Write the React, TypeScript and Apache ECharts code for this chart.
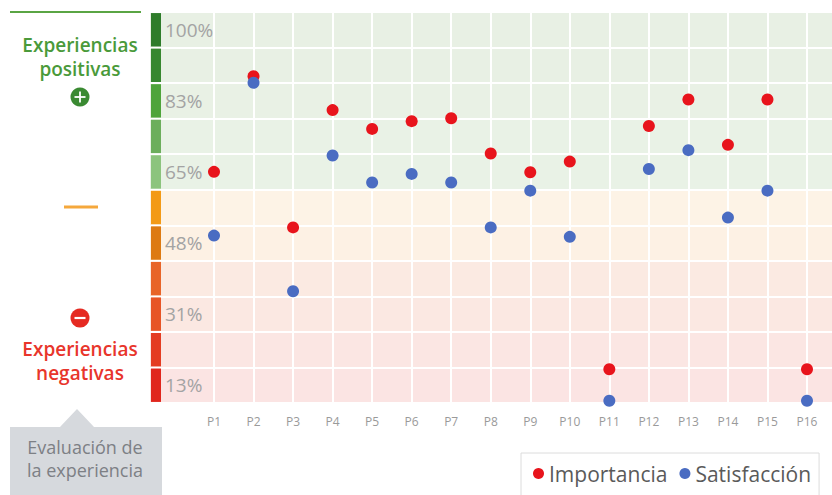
import React, { useEffect, useRef } from "react";
import * as echarts from "echarts";

const categories = ["P1", "P2", "P3", "P4", "P5", "P6", "P7", "P8", "P9", "P10", "P11", "P12", "P13", "P14", "P15", "P16"];
const importancia = [60.9, 84.3, 47.3, 76.0, 71.4, 73.3, 74.0, 65.4, 60.8, 63.4, 12.6, 72.1, 78.6, 67.5, 78.6, 12.6];
const satisfaccion = [45.3, 82.7, 31.7, 64.9, 58.3, 60.4, 58.3, 47.3, 56.3, 45.0, 4.9, 61.6, 66.2, 49.7, 56.3, 4.9];
// bands from bottom to top
const bandLabels = ["13%", "", "31%", "", "48%", "", "65%", "", "83%", "", "100%"];
const bandFill = ["#fbe4e3", "#fbe6e3", "#fbe8e2", "#fbeae2", "#fdf1e4", "#fdf3e6", "#e9f2e6", "#e9f2e6", "#e9f1e5", "#e8f0e4", "#e8f0e4"];
const bandBar = ["#e0261d", "#e43c22", "#e75426", "#e86428", "#dd7a12", "#f39a16", "#8cc47d", "#6cae5c", "#4ea43a", "#37872f", "#2e7c2a"];
const yMin = 4.35;
const yMax = 100;

export default function App() {
  const ref = useRef<HTMLDivElement>(null);
  useEffect(() => {
    if (!ref.current) return;
    const chart = echarts.init(ref.current, undefined, { renderer: "svg" });
    const font = '"Open Sans", sans-serif';
    chart.setOption({
      animation: false,
      textStyle: { fontFamily: font },
      grid: [
        { left: 150, right: 0, top: 12, bottom: 92 },
        { left: 214, right: 25, top: 12, bottom: 92 },
        { left: 151, width: 10, top: 12, bottom: 92 },
      ],
      xAxis: [
        { gridIndex: 0, type: "value", min: 0, max: 1, show: false },
        {
          gridIndex: 1,
          type: "category",
          data: categories,
          boundaryGap: false,
          z: 2,
          axisLine: { show: false },
          axisTick: { show: false },
          axisLabel: { color: "#9a9a9a", fontSize: 12, margin: 12, interval: 0, fontFamily: font },
          splitLine: { show: true, interval: 0, lineStyle: { color: "#ffffff", width: 2 } },
        },
        { gridIndex: 2, type: "value", min: 0, max: 1, show: false },
      ],
      yAxis: [
        {
          gridIndex: 0,
          type: "category",
          data: bandLabels,
          boundaryGap: true,
          z: 0,
          axisLine: { show: false },
          axisTick: { show: false },
          axisLabel: { inside: true, margin: 15, interval: 0, color: "#a3a3a3", fontSize: 19, fontFamily: font },
          splitLine: { show: true, interval: 0, lineStyle: { color: "#ffffff", width: 2 } },
          splitArea: { show: true, interval: 0, areaStyle: { color: bandFill, opacity: 1 } },
        },
        { gridIndex: 1, type: "value", min: yMin, max: yMax, show: false },
        { gridIndex: 2, type: "category", data: bandLabels, show: false },
      ],
      legend: {
        left: 521,
        top: 453,
        padding: [10, 8, 12, 12],
        borderColor: "#dcdcdc",
        borderWidth: 1,
        backgroundColor: "#ffffff",
        itemWidth: 11,
        itemHeight: 11,
        itemGap: 12,
        icon: "circle",
        textStyle: { color: "#5a5a5a", fontSize: 21, fontFamily: font },
        data: ["Importancia", "Satisfacción"],
      },
      series: [
        {
          type: "bar",
          xAxisIndex: 2,
          yAxisIndex: 2,
          barCategoryGap: "6%",
          data: bandBar.map((c) => ({ value: 1, itemStyle: { color: c } })),
          silent: true,
          z: 3,
        },
        {
          name: "Importancia",
          type: "scatter",
          xAxisIndex: 1,
          yAxisIndex: 1,
          symbolSize: 12,
          itemStyle: { color: "#e8141c", opacity: 1 },
          data: importancia,
          z: 4,
        },
        {
          name: "Satisfacción",
          type: "scatter",
          xAxisIndex: 1,
          yAxisIndex: 1,
          symbolSize: 12,
          itemStyle: { color: "#4a6cc2", opacity: 1 },
          data: satisfaccion,
          z: 5,
        },
      ],
      graphic: [
        { type: "line", shape: { x1: 10, y1: 12, x2: 141, y2: 12 }, style: { stroke: "#5aa544", lineWidth: 2 } },
        {
          type: "text",
          x: 80,
          y: 56.5,
          style: {
            text: "Experiencias\npositivas",
            fill: "#4a9a3a",
            font: `600 19px ${font}`,
            lineHeight: 24,
            align: "center",
            verticalAlign: "middle",
          },
        },
        { type: "circle", shape: { cx: 80, cy: 97, r: 9.5 }, style: { fill: "#3a8a32" } },
        { type: "line", shape: { x1: 74.5, y1: 97, x2: 85.5, y2: 97 }, style: { stroke: "#ffffff", lineWidth: 1.8 } },
        { type: "line", shape: { x1: 80, y1: 91.5, x2: 80, y2: 102.5 }, style: { stroke: "#ffffff", lineWidth: 1.8 } },
        { type: "line", shape: { x1: 64, y1: 207, x2: 98, y2: 207 }, style: { stroke: "#f5a83c", lineWidth: 3 } },
        { type: "circle", shape: { cx: 80, cy: 318, r: 9.5 }, style: { fill: "#e52a22" } },
        { type: "line", shape: { x1: 74.5, y1: 318, x2: 85.5, y2: 318 }, style: { stroke: "#ffffff", lineWidth: 2.2 } },
        {
          type: "text",
          x: 80,
          y: 361,
          style: {
            text: "Experiencias\nnegativas",
            fill: "#e8352b",
            font: `600 19px ${font}`,
            lineHeight: 24,
            align: "center",
            verticalAlign: "middle",
          },
        },
        {
          type: "line",
          shape: { x1: 10, y1: 402, x2: 141, y2: 402 },
          style: {
            stroke: new echarts.graphic.LinearGradient(0, 0, 1, 0, [
              { offset: 0, color: "#e52a22" },
              { offset: 1, color: "#f49b3a" },
            ]),
            lineWidth: 3,
          },
        },
        {
          type: "polygon",
          shape: { points: [[10, 427], [60, 427], [77, 409], [94, 427], [162, 427], [162, 495], [10, 495]] },
          style: { fill: "#d6d9dd" },
        },
        {
          type: "text",
          x: 85,
          y: 458.5,
          style: {
            text: "Evaluación de\nla experiencia",
            fill: "#7d8085",
            font: `18px ${font}`,
            lineHeight: 23,
            align: "center",
            verticalAlign: "middle",
          },
        },
      ],
    });
    return () => chart.dispose();
  }, []);
  return <div ref={ref} style={{ position: "fixed", left: 0, top: 0, width: 832, height: 495, background: "#fff" }} />;
}
